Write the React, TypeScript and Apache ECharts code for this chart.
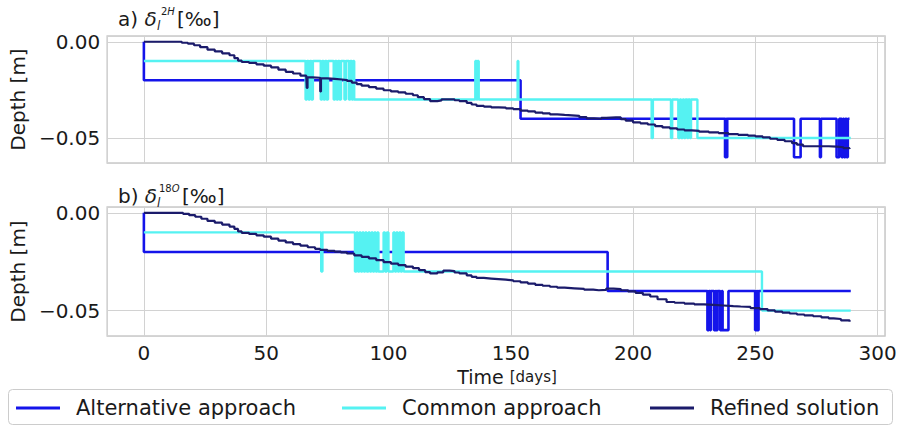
import React, { useEffect, useRef } from 'react';
import * as echarts from 'echarts';

const FONT = 'DejaVu Sans';
const TEXT = '#1a1a1a';

const seriesNames = ['Alternative approach', 'Common approach', 'Refined solution'];
const seriesColors = ['#1414ea', '#55f2f2', '#1b1b6b'];
const lineWidths = [2.6, 2.4, 2.2];

// Panel a) delta 2H : [day, depth m] change points (value held until next day)
const altA: [number, number][] = [
  [0, 0], [0, -0.02], [154, -0.04], [237.6, -0.06], [237.9, -0.04], [238.2, -0.06], [238.5, -0.04],
  [265.8, -0.06], [268.5, -0.04], [276.4, -0.06], [276.8, -0.04], [283.2, -0.06], [284.3, -0.04],
  [285.3, -0.06], [285.8, -0.04], [286.3, -0.06], [286.8, -0.04], [287.3, -0.06], [287.8, -0.04], [288.5, -0.04],
];

const commonA: [number, number][] = [
  [0, -0.01], [66.1, -0.03], [66.7, -0.01], [67.3, -0.03], [67.9, -0.01], [68.5, -0.03], [69.1, -0.01],
  [72.3, -0.03], [72.9, -0.01], [73.5, -0.03], [74.1, -0.01], [74.7, -0.03], [75.3, -0.01],
  [77.6, -0.03], [78.2, -0.01], [78.8, -0.03], [79.4, -0.01], [80, -0.03], [80.6, -0.01],
  [82, -0.03], [82.6, -0.01], [83.8, -0.03], [84.4, -0.01], [85, -0.03], [85.6, -0.01], [86, -0.03],
  [135.5, -0.01], [136, -0.03], [136.4, -0.01], [136.9, -0.03], [152.8, -0.01], [153.1, -0.03],
  [207.6, -0.05], [208.1, -0.03], [215.5, -0.05], [216, -0.03], [218.5, -0.05], [219.1, -0.03],
  [219.7, -0.05], [220.3, -0.03], [220.9, -0.05], [221.4, -0.03], [222.2, -0.05], [222.6, -0.03],
  [223.3, -0.05], [223.7, -0.03], [226.3, -0.05], [289, -0.05],
];

const refinedA: [number, number][] = [
  [0, 0], [14, 0], [15.5, -0.0005], [18, -0.001], [20.5, -0.0018], [23, -0.0028], [26, -0.0041],
  [29, -0.005], [32, -0.006], [35, -0.007], [37, -0.0085], [38.5, -0.0098], [40, -0.0105],
  [43, -0.011], [46, -0.0117], [49, -0.0124], [52, -0.0133], [55, -0.0145], [58, -0.0156],
  [61, -0.0165], [64, -0.0176], [66.4, -0.0184], [66.6, -0.024], [66.9, -0.0185], [69, -0.0187],
  [71.9, -0.019], [72.1, -0.0258], [72.4, -0.019], [75, -0.0193], [78, -0.0196], [81, -0.0199],
  [83, -0.0203], [85, -0.0212], [87, -0.022], [89, -0.0228], [92, -0.0236], [95, -0.0244],
  [98, -0.0252], [101, -0.0258], [104, -0.0263], [107, -0.027], [110, -0.0278], [112, -0.0288],
  [114.5, -0.0298], [117, -0.0308], [120, -0.0305], [121.7, -0.0299], [125, -0.0299], [127, -0.0304],
  [129, -0.0308], [132, -0.0318], [134, -0.0326], [136, -0.0333], [139, -0.0337], [142, -0.0341],
  [145, -0.0342], [148, -0.0346], [151, -0.035], [154, -0.0358], [157, -0.0362], [160, -0.0368],
  [163, -0.0372], [166, -0.0377], [169, -0.038], [172, -0.0382], [175, -0.0385], [178, -0.0392],
  [181, -0.0398], [184, -0.04], [187, -0.0396], [189, -0.0393], [193, -0.0393], [195, -0.0402],
  [197, -0.041], [200, -0.0419], [203, -0.0424], [206, -0.043], [209, -0.0438], [212, -0.0445],
  [215, -0.045], [218, -0.0456], [221, -0.046], [224, -0.0463], [227, -0.0467], [231, -0.0471],
  [235, -0.0475], [239, -0.048], [243, -0.0484], [247, -0.0488], [250, -0.0492], [253, -0.0497],
  [256, -0.0504], [259, -0.051], [262, -0.0517], [265, -0.0527], [267, -0.0535], [269.5, -0.0543],
  [273, -0.0543], [277.8, -0.0543], [280, -0.0545], [283.3, -0.0548], [286, -0.0553], [288.5, -0.0557],
];

// Panel b) delta 18O
const altB: [number, number][] = [
  [0, 0], [0, -0.02], [189.6, -0.04], [230.4, -0.06], [231, -0.04], [231.5, -0.06], [231.8, -0.04],
  [233.1, -0.06], [233.7, -0.04], [234.1, -0.06], [234.5, -0.04], [235.6, -0.06], [236.3, -0.04],
  [236.6, -0.06], [239, -0.04], [249.9, -0.06], [250.5, -0.04], [250.9, -0.06], [251.3, -0.04], [289, -0.04],
];

const commonB: [number, number][] = [
  [0, -0.01], [72.5, -0.03], [73, -0.01], [86.3, -0.03], [86.9, -0.01], [87.5, -0.03], [88.1, -0.01],
  [88.7, -0.03], [89.3, -0.01], [89.9, -0.03], [90.5, -0.01], [91.1, -0.03], [91.8, -0.01],
  [92.4, -0.03], [93, -0.01], [93.6, -0.03], [94.2, -0.01], [94.8, -0.03], [95.4, -0.01], [95.9, -0.03],
  [98, -0.01], [98.6, -0.03], [99.3, -0.01], [100, -0.03], [102, -0.01], [102.6, -0.03], [103.2, -0.01],
  [103.8, -0.03], [104.4, -0.01], [105, -0.03], [105.6, -0.01], [106.2, -0.03], [252.7, -0.05], [289, -0.05],
];

const refinedB: [number, number][] = [
  [0, 0], [14.7, 0], [16, -0.0005], [18.5, -0.0012], [21, -0.002], [23.5, -0.003], [26, -0.0041],
  [29, -0.005], [32, -0.006], [35, -0.007], [37, -0.0082], [38.5, -0.0095], [40, -0.0102],
  [43, -0.0108], [46, -0.0115], [49, -0.0122], [52, -0.0132], [55, -0.0142], [58, -0.0151],
  [61, -0.016], [64, -0.0168], [67, -0.0176], [70, -0.0184], [72, -0.0189], [75, -0.0194],
  [78, -0.0198], [80.5, -0.0202], [83, -0.0208], [86, -0.0217], [89, -0.0225], [92, -0.0233],
  [95, -0.0242], [98, -0.0252], [101, -0.026], [104, -0.0267], [107, -0.0275], [110, -0.0283],
  [112.5, -0.0293], [115, -0.0303], [117, -0.031], [120, -0.0304], [122.4, -0.0296], [125, -0.0298],
  [127, -0.0305], [129, -0.031], [132, -0.032], [134, -0.0327], [136, -0.0333], [139, -0.0336],
  [142, -0.0339], [145, -0.0342], [148, -0.0345], [151, -0.035], [154, -0.0356], [157, -0.0362],
  [160, -0.0368], [163, -0.0373], [166, -0.0378], [169, -0.0383], [172, -0.0386], [176, -0.0389],
  [180, -0.0393], [183.7, -0.0396], [186, -0.0394], [189, -0.0388], [192, -0.039], [195, -0.0396],
  [198, -0.0402], [201, -0.0409], [204, -0.0418], [207, -0.0428], [210, -0.0442], [213.7, -0.0456],
  [217, -0.046], [221, -0.0464], [225, -0.0468], [229, -0.0471], [233, -0.0474], [237, -0.0477],
  [241, -0.0479], [244, -0.0481], [248, -0.0487], [251.8, -0.0492], [255, -0.0499], [258, -0.0505],
  [261, -0.051], [264, -0.0515], [267, -0.052], [270, -0.0524], [273.6, -0.0529], [277, -0.0535],
  [280, -0.054], [282, -0.0543], [285, -0.055], [288.5, -0.0557],
];

const xMin = -15;
const xMax = 303;
const yMin = -0.063;
const yMax = 0.003;

const yFmt = (v: number) => {
  if (Math.abs(v) < 1e-6) return '0.00';
  if (Math.abs(v + 0.05) < 1e-6) return '\u22120.05';
  return '';
};
const xFmt = (v: number) => (Math.abs(v / 50 - Math.round(v / 50)) < 1e-6 ? String(Math.round(v)) : '');

function buildOption() {
  const grids = [
    { left: 107, top: 36, width: 778, height: 127 },
    { left: 107, top: 207, width: 778, height: 129 },
  ].map((g) => ({ ...g, show: true, borderColor: '#c9c9c9', borderWidth: 1.5, backgroundColor: 'transparent' }));

  const xAxes = [0, 1].map((i) => ({
    type: 'value',
    gridIndex: i,
    min: xMin,
    max: xMax,
    splitNumber: 6,
    axisLine: { show: false },
    axisTick: { show: false },
    axisLabel: {
      show: i === 1,
      showMinLabel: false,
      showMaxLabel: false,
      formatter: xFmt,
      fontSize: 20,
      fontFamily: FONT,
      color: TEXT,
      margin: 7,
    },
    splitLine: { show: true, lineStyle: { color: '#d2d2d2', width: 1 } },
  }));

  const yAxes = [0, 1].map((i) => ({
    type: 'value',
    gridIndex: i,
    min: yMin,
    max: yMax,
    splitNumber: 1,
    name: 'Depth [m]',
    nameLocation: 'middle',
    nameGap: 74,
    nameTextStyle: { fontSize: 20, fontFamily: FONT, color: TEXT },
    axisLine: { show: false },
    axisTick: { show: false },
    axisLabel: {
      showMinLabel: false,
      showMaxLabel: false,
      formatter: yFmt,
      fontSize: 20,
      fontFamily: FONT,
      color: TEXT,
      margin: 7,
    },
    splitLine: { show: true, lineStyle: { color: '#d2d2d2', width: 1 } },
  }));

  const panels = [
    [altA, commonA, refinedA],
    [altB, commonB, refinedB],
  ];
  const series: any[] = [];
  panels.forEach((sets, p) => {
    sets.forEach((data, k) => {
      series.push({
        name: seriesNames[k],
        type: 'line',
        xAxisIndex: p,
        yAxisIndex: p,
        data,
        step: 'end',
        symbol: 'none',
        silent: true,
        lineStyle: { color: seriesColors[k], width: lineWidths[k] },
        itemStyle: { color: seriesColors[k] },
        z: 2 + k,
      });
    });
  });

  const legendLefts = [16, 342, 650];
  const legend = seriesNames.map((n, k) => ({
    data: [n],
    left: legendLefts[k],
    top: 397.5,
    padding: 0,
    icon: 'rect',
    itemWidth: 44,
    itemHeight: 3,
    selectedMode: false,
    z: 10,
    textStyle: { fontSize: 21, fontFamily: FONT, color: TEXT, padding: [0, 0, 0, 11] },
  }));

  const titleText = (label: string, supNum: string, supSym: string, cy: number, bracketX: number, supX: number) => [
    {
      type: 'text', x: 118, y: cy, z: 10,
      style: {
        text: `{n|${label} }{d|δ}`,
        verticalAlign: 'middle',
        rich: {
          n: { fontSize: 20, fontFamily: FONT, fill: TEXT },
          d: { fontSize: 20, fontFamily: FONT, fontStyle: 'italic', fill: TEXT },
        },
      },
    },
    {
      type: 'text', x: 157, y: cy + 7, z: 10,
      style: { text: 'l', fontSize: 12, fontFamily: FONT, fontStyle: 'italic', fill: TEXT, verticalAlign: 'middle' },
    },
    {
      type: 'text', x: supX, y: cy - 8, z: 10,
      style: {
        text: `{a|${supNum}}{b|${supSym}}`,
        verticalAlign: 'middle',
        rich: {
          a: { fontSize: 10, fontFamily: FONT, fill: TEXT },
          b: { fontSize: 10, fontFamily: FONT, fontStyle: 'italic', fill: TEXT },
        },
      },
    },
    {
      type: 'text', x: bracketX, y: cy, z: 10,
      style: { text: '[‰]', fontSize: 20, fontFamily: FONT, fill: TEXT, verticalAlign: 'middle' },
    },
  ];

  const graphic: any[] = [
    {
      type: 'rect', z: 0, silent: true,
      shape: { x: 8.5, y: 389.5, width: 884, height: 35, r: 4 },
      style: { fill: '#ffffff', stroke: '#cccccc', lineWidth: 1 },
    },
    ...titleText('a)', '2', 'H', 19, 177, 161),
    ...titleText('b)', '18', 'O', 196, 182, 159),
    {
      type: 'text', x: 507, y: 377, z: 10,
      style: {
        text: '{t|Time }{d|[days]}',
        align: 'center',
        verticalAlign: 'middle',
        rich: {
          t: { fontSize: 19, fontFamily: FONT, fill: TEXT },
          d: { fontSize: 15, fontFamily: FONT, fill: TEXT },
        },
      },
    },
  ];

  return {
    animation: false,
    backgroundColor: '#ffffff',
    grid: grids,
    xAxis: xAxes,
    yAxis: yAxes,
    series,
    legend,
    graphic,
  };
}

export default function App() {
  const ref = useRef<HTMLDivElement>(null);
  useEffect(() => {
    if (!ref.current) return;
    const chart = echarts.init(ref.current, null, { renderer: 'svg' });
    chart.setOption(buildOption() as any);
    return () => chart.dispose();
  }, []);
  return (
    <div
      ref={ref}
      style={{ position: 'fixed', left: 0, top: 0, width: 901, height: 426, background: '#fff' }}
    />
  );
}
